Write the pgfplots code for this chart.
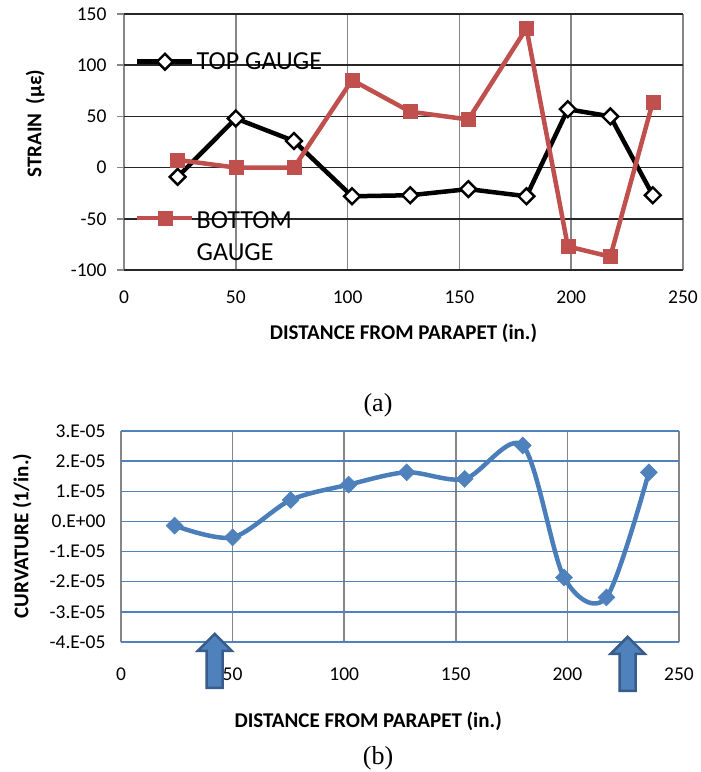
\documentclass[border=0pt]{standalone}
\usepackage{fontspec}
\setmainfont{Carlito}
\newfontfamily\capfont{Liberation Serif}
\usepackage{pgfplots}
\pgfplotsset{compat=1.18}

\definecolor{gaugered}{HTML}{C0504D}
\definecolor{curvblue}{HTML}{4A7EBB}
\definecolor{gridblue}{HTML}{4F81BD}
\definecolor{gridgray}{HTML}{868686}
\definecolor{arrowedge}{HTML}{385D8A}

\pgfplotsset{
  exstyle/.style={
    scale only axis,
    anchor=south west,
    xmin=0, xmax=250,
    xtick={0,50,...,250},
    xticklabels={0,50,100,150,200,250},
    grid=major,
    x grid style={gridgray, line width=1.5pt},
    axis line style={draw=none},
    xtick style={draw=none},
    scaled ticks=false,
    tick label style={font=\fontsize{19.5}{22}\selectfont},
    label style={font=\bfseries\fontsize{21}{24}\selectfont},
  },
}

\begin{document}
\begin{tikzpicture}
\path[use as bounding box] (0pt,0pt) rectangle (701pt,772pt);

% (a) strain
\begin{axis}[
  exstyle,
  at={(124pt,502pt)},
  width=559pt, height=256pt,
  ymin=-100, ymax=150,
  ytick={-100,-50,...,150},
  yticklabels={-100,-50,0,50,100,150},
  y grid style={black!85, line width=1.5pt},
  tick align=outside,
  ytick pos=left,
  ytick style={gridgray, line width=1.5pt},
  major tick length=7pt,
  yticklabel style={xshift=-7pt},
  xticklabel style={yshift=-10pt},
  xlabel={DISTANCE FROM PARAPET (in.)},
  ylabel={STRAIN\ \ (με)},
  xlabel style={at={(axis description cs:0.5,-0.246)}, anchor=center},
  ylabel style={at={(axis description cs:-0.159,0.572)}, anchor=center},
  legend cell align=left,
  legend style={
    at={(axis description cs:0.0197,0.858)}, anchor=north west,
    draw=none, fill=none, inner sep=0pt,
    nodes={inner sep=2pt},
    font=\fontsize{26}{32}\selectfont,
    row sep=131pt,
  },
  legend image code/.code={
    \draw[mark repeat=2, mark phase=2, #1]
      plot coordinates {(0pt,0pt) (27.5pt,0pt) (55pt,0pt)};
  },
]
\addplot[black, line width=4.5pt,
  mark=square*, mark size=5.6pt,
  mark options={rotate=45, fill=white, draw=black, line width=2.4pt}]
  coordinates {
    (24,-9) (50,48) (76,26) (102,-28) (128,-27)
    (154,-21) (180,-28) (198.5,57) (217.5,50) (236.5,-27)
  };
\addlegendentry{TOP GAUGE}
\addplot[gaugered, line width=4.5pt,
  mark=square*, mark size=7pt,
  mark options={fill=gaugered, draw=gaugered, line width=0.5pt}]
  coordinates {
    (24,7.5) (50,0) (76,0) (102,85.5) (128,54.6)
    (154,47) (180,136) (198.5,-77) (217.5,-87) (236.5,64)
  };
\addlegendentry{\begin{tabular}[t]{@{}l@{}}BOTTOM\\GAUGE\end{tabular}}
\end{axis}

% (b) curvature
\begin{axis}[
  exstyle,
  at={(121pt,130pt)},
  width=558pt, height=211pt,
  clip=false,
  ymin=-4e-5, ymax=3e-5,
  ytick={-4e-5,-3e-5,-2e-5,-1e-5,1e-5,2e-5,3e-5},
  yticklabels={-4.E-05,-3.E-05,-2.E-05,-1.E-05,1.E-05,2.E-05,3.E-05},
  extra y ticks={0},
  extra y tick labels={0.E+00},
  extra y tick style={grid style={gridgray, line width=1.5pt}, ytick style={draw=none}},
  y grid style={gridblue, line width=1.5pt},
  ytick style={draw=none},
  yticklabel style={xshift=-12pt},
  xticklabel style={yshift=-22pt},
  xlabel={DISTANCE FROM PARAPET (in.)},
  ylabel={CURVATURE (1/in.)},
  xlabel style={at={(axis description cs:0.443,-0.374)}, anchor=center},
  ylabel style={at={(axis description cs:-0.177,0.502)}, anchor=center},
]
\addplot[curvblue, line width=4.5pt, smooth, tension=0.5,
  mark=square*, mark size=6pt,
  mark options={rotate=45, fill=gridblue, draw=gridblue, line width=0.5pt}]
  coordinates {
    (24,-1.4e-6) (50,-5.3e-6) (76,7.1e-6) (102,1.22e-5) (128,1.63e-5)
    (154,1.41e-5) (180,2.52e-5) (198.5,-1.86e-5) (217.5,-2.52e-5) (236.5,1.63e-5)
  };
% support arrows
\draw[arrowedge, line width=2.5pt, fill=gridblue, line join=miter]
  (axis cs:42,-5.52e-5) ++(-8pt,0pt) -- ++(0pt,37pt) -- ++(-9pt,0pt)
  -- ++(17pt,17pt) -- ++(17pt,-17pt) -- ++(-9pt,0pt) -- ++(0pt,-37pt) -- cycle;
\draw[arrowedge, line width=2.5pt, fill=gridblue, line join=miter]
  (axis cs:227,-5.62e-5) ++(-8pt,0pt) -- ++(0pt,37pt) -- ++(-9pt,0pt)
  -- ++(17pt,17pt) -- ++(17pt,-17pt) -- ++(-9pt,0pt) -- ++(0pt,-37pt) -- cycle;
\end{axis}

\node[font=\capfont\fontsize{26}{30}\selectfont, anchor=center] at (378pt,367pt) {(a)};
\node[font=\capfont\fontsize{26}{30}\selectfont, anchor=center] at (378pt,14pt) {(b)};
\end{tikzpicture}
\end{document}
